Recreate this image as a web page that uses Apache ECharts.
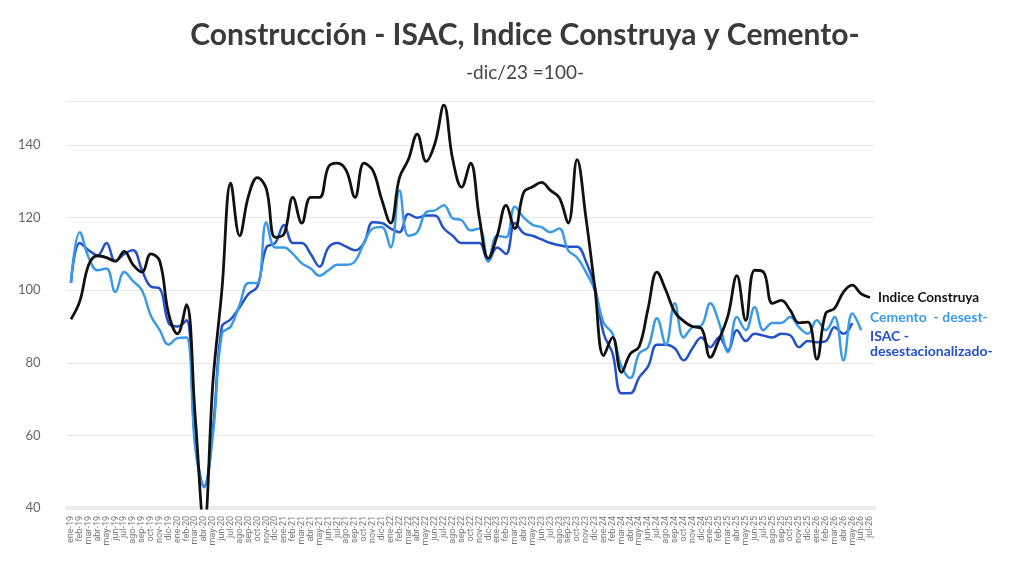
<!DOCTYPE html>
<html><head><meta charset="utf-8">
<script src="https://cdn.jsdelivr.net/npm/echarts@6/dist/echarts.min.js"></script>
<style>html,body{margin:0;padding:0;background:#fff}#c{width:1024px;height:576px}</style>
</head><body><div id="c"></div>
<script>
const months=['ene','feb','mar','abr','may','jun','jul','ago','sep','oct','nov','dic'];
const categories=[];
for(let y=19;y<=26;y++){for(let m=0;m<12;m++){if(y===26&&m>6)break;categories.push(months[m]+'-'+y);}}
const construya=[92,97,107,109.5,109,108,110.7,107,105,110,108,93.5,88,96,65,35,75,100,129.5,115,126,131,128,114.6,115.5,125.6,118.5,125.6,125.6,134,135,133,125.6,135,133,125,118.5,131,136,143,135.5,140.5,151,136,128.4,135,120,108.8,115,123.4,117,127,128.5,129.7,127.5,125.5,118.5,136,120,100.8,82,87,77.4,82.5,84.5,95,105,100,94,91.5,90,89.5,81.5,86.5,93,104,91.7,105.5,105,96.4,97.2,94.5,91,91.2,81,93.6,95,99.5,101.4,99,98];
const cemento=[102,116,109,105.5,106,99.5,105,102.5,100,93,89,85,86.8,87,56.8,45.7,60.5,88,90,96,102,102,118.7,111.8,111.8,110,107.4,106,104,105.5,107,107,108,113,117,117.4,111.8,127.5,115,116,121.5,122,123.4,119.8,119.3,116.5,117,108,115,114.6,123,120,118,117.4,116,117,111,109,105,100,91,88,79,75.8,82.6,84.3,92.3,85,96.4,87,89.8,90.3,96.4,91,83,92.6,89,95.3,89,91,91,92.6,89.8,88,91.7,89,92.6,80.7,93.6,89,'-'];
const isac=[102,113,111,109.6,113,108,110,111,105.5,101,100.5,91,90,91.7,58,46,62,90,92,95.3,99,101,111.8,113,118,113,113,110,106.5,111.8,113,112,111,113,118.7,118.5,117,116,121,120,120.6,120.6,117,115,113,113,113,108,111.8,110,118.5,115.7,115,114,113,112.4,112,112,108,101,88,82.6,71.6,71.6,76,79,85,85,84,80.7,84,87,84.3,87,83.5,89,86,88,87.5,87,88,87.6,84.3,86,85.7,86,89.8,88,91,'-','-'];
const chart=echarts.init(document.getElementById('c'));
const ff='Lato, "Open Sans", sans-serif';
chart.setOption({
  animation:false,
  title:[{text:'Construcción - ISAC, Indice Construya y Cemento-',left:520,top:15,textAlign:'center',textStyle:{fontSize:30,fontWeight:'bold',color:'#3a3a3a',fontFamily:ff}},
         {text:'-dic/23 =100-',left:520,top:58,textAlign:'center',textStyle:{fontSize:19,fontWeight:'normal',color:'#444',fontFamily:ff}}],
  grid:{left:66.5,right:149.5,top:101.5,bottom:68},
  xAxis:{type:'category',data:categories,boundaryGap:true,
    axisLine:{lineStyle:{color:'#ececec',width:4}},axisTick:{show:false},
    axisLabel:{interval:0,rotate:90,fontSize:9,color:'#777',margin:8,fontFamily:'Roboto'}},
  yAxis:{type:'value',min:40,max:152,interval:20,
    axisLabel:{fontSize:13,color:'#666',margin:26,fontFamily:ff,showMaxLabel:false},
    splitLine:{lineStyle:{color:'#e6e6e6'}},axisLine:{show:false},axisTick:{show:false}},
  series:[
    {name:'ISAC',type:'line',data:isac,smooth:0.4,symbol:'none',lineStyle:{color:'#2450c8',width:2.5},z:2},
    {name:'Cemento',type:'line',data:cemento,smooth:0.4,symbol:'none',lineStyle:{color:'#3b9ae8',width:2.5},z:3},
    {name:'Indice Construya',type:'line',data:construya,smooth:0.4,symbol:'none',lineStyle:{color:'#111',width:2.8},z:4,
      endLabel:{show:true,formatter:'Indice Construya',color:'#111',fontWeight:'bold',fontSize:13.5,fontFamily:ff,distance:8}}
  ],
  graphic:[
    {type:'text',left:870,top:310,style:{text:'Cemento  - desest-',fill:'#3b9ae8',font:'bold 14px '+ff}},
    {type:'text',left:870,top:329,style:{text:'ISAC -\ndesestacionalizado-',fill:'#2450c8',font:'bold 14px '+ff,lineHeight:15}}
  ]
});
</script></body></html>
